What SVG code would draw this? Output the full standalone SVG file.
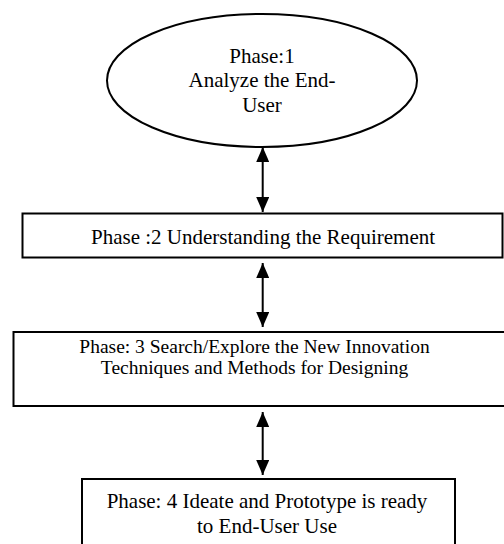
<svg xmlns="http://www.w3.org/2000/svg" width="504" height="544" viewBox="0 0 504 544">
<style>
.shape{fill:#fff;stroke:#000;stroke-width:2}
.t{font-family:"Liberation Serif","Times New Roman",serif;font-size:21px;fill:#000;text-anchor:middle}
.conn{stroke:#000;stroke-width:2;fill:none}
</style>
<defs>
<marker id="ah" markerUnits="userSpaceOnUse" markerWidth="15" markerHeight="13" refX="15" refY="6.5" orient="auto-start-reverse">
<path d="M0,0 L15,6.5 L0,13 z" fill="#000"/>
</marker>
</defs>
<rect width="504" height="544" fill="#fff"/>
<g id="phase1">
<ellipse class="shape" cx="262" cy="80.5" rx="155" ry="66.5"/>
<text class="t" x="262" y="63">Phase:1</text>
<text class="t" x="262" y="87">Analyze the End-</text>
<text class="t" x="262" y="111.5">User</text>
</g>
<g id="phase2">
<rect class="shape" x="22.5" y="213.5" width="480" height="44"/>
<text class="t" x="263" y="244">Phase :2 Understanding the Requirement</text>
</g>
<g id="phase3">
<rect class="shape" x="13.5" y="332" width="500" height="74"/>
<text class="t" x="254.5" y="353" style="font-size:19.5px">Phase: 3 Search/Explore the New Innovation</text>
<text class="t" x="254.5" y="374" style="font-size:19.5px">Techniques and Methods for Designing</text>
</g>
<g id="phase4">
<rect class="shape" x="82" y="479" width="373" height="80"/>
<text class="t" x="267" y="508">Phase: 4 Ideate and Prototype is ready</text>
<text class="t" x="267" y="533">to End-User Use</text>
</g>
<g id="connectors">
<line class="conn" x1="262.7" y1="147" x2="262.7" y2="212" marker-start="url(#ah)" marker-end="url(#ah)"/>
<line class="conn" x1="262.7" y1="263" x2="262.7" y2="327" marker-start="url(#ah)" marker-end="url(#ah)"/>
<line class="conn" x1="262.7" y1="412" x2="262.7" y2="475" marker-start="url(#ah)" marker-end="url(#ah)"/>
</g>
</svg>
